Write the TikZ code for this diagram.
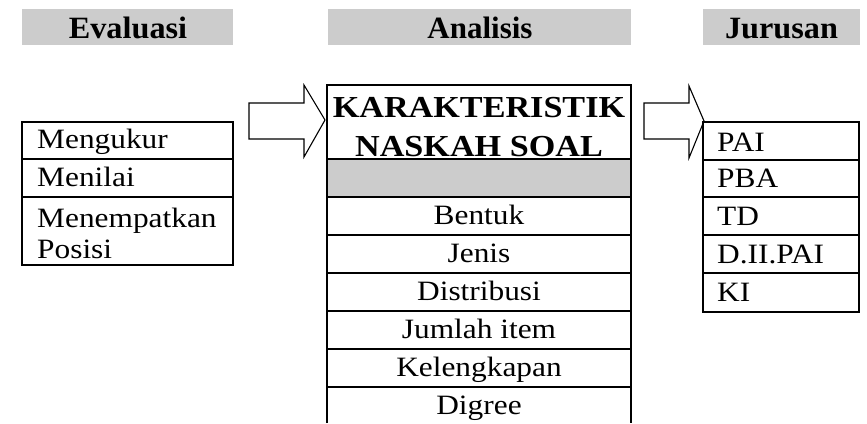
\documentclass[tikz,border=0pt]{standalone}
\usepackage{fontspec}
\usepackage{graphicx}
\setmainfont{Liberation Serif}
\newcommand{\wide}[1]{\scalebox{1.12}[1]{#1}}
\newcommand{\hwide}[1]{\scalebox{1.04}[1]{#1}}
\begin{document}
\begin{tikzpicture}[x=1pt,y=-1pt,
  line/.style={line width=1.1pt,black},
  hdr/.style={fill=black!20,draw=none},
  hdrtxt/.style={anchor=base,inner sep=0pt,font=\fontsize{31}{37}\selectfont\bfseries},
  ltxt/.style={anchor=base west,inner sep=0pt,font=\fontsize{28}{34}\selectfont},
  ctxt/.style={anchor=base,inner sep=0pt,font=\fontsize{28}{34}\selectfont},
  ttxt/.style={anchor=base,inner sep=0pt,font=\fontsize{30.5}{37}\selectfont\bfseries},
  blockarrow/.style={line width=1.1pt,black,line join=miter}]
\useasboundingbox (0,0) rectangle (867,423);
\clip (0,0) rectangle (867,423);
% headers
\fill[hdr] (22,9) rectangle (233,45);
\fill[hdr] (328,9) rectangle (631,45);
\fill[hdr] (703,9) rectangle (860,45);
\node[hdrtxt] (hEval) at (128,38) {\hwide{Evaluasi}};
\node[hdrtxt] (hAnal) at (480,38) {Analisis};
\node[hdrtxt] (hJur) at (781.5,38) {\hwide{Jurusan}};
% left table
\draw[line] (22,122) rectangle (233,265);
\draw[line] (22,159) -- (233,159);
\draw[line] (22,197) -- (233,197);
\node[ltxt] (l1) at (37,148) {\wide{Mengukur}};
\node[ltxt] (l2) at (37,186) {\wide{Menilai}};
\node[ltxt] (l3) at (37,227) {\wide{Menempatkan}};
\node[ltxt] (l4) at (37,258) {\wide{Posisi}};
% center table
\fill[black!20] (327,159) rectangle (631,197);
\draw[line] (327,423) -- (327,85) -- (631,85) -- (631,423);
\foreach \yy in {159,197,235,273,311,349,387}
  \draw[line] (327,\yy) -- (631,\yy);
\node[ttxt] (t1) at (479,117) {\wide{KARAKTERISTIK}};
\node[ttxt] (t2) at (479,156) {\wide{NASKAH SOAL}};
\node[ctxt] (c1) at (479,224) {\wide{Bentuk}};
\node[ctxt] (c2) at (479,262) {\wide{Jenis}};
\node[ctxt] (c3) at (479,300) {\wide{Distribusi}};
\node[ctxt] (c4) at (479,338) {\wide{Jumlah item}};
\node[ctxt] (c5) at (479,376) {\wide{Kelengkapan}};
\node[ctxt] (c6) at (479,414) {\wide{Digree}};
% right table
\draw[line] (703,122) rectangle (859,312);
\foreach \yy in {160,197,235,273}
  \draw[line] (703,\yy) -- (859,\yy);
\node[ltxt] (r1) at (717,151) {\wide{PAI}};
\node[ltxt] (r2) at (717,187) {\wide{PBA}};
\node[ltxt] (r3) at (717,225) {\wide{TD}};
\node[ltxt] (r4) at (717,263) {\wide{D.II.PAI}};
\node[ltxt] (r5) at (717,301) {\wide{KI}};
% block arrows
\draw[blockarrow] (249,103) -- (304,103) -- (304,85) -- (325,120) -- (304,157) -- (304,139) -- (249,139) -- cycle;
\draw[blockarrow] (644,103) -- (689,103) -- (689,86) -- (704,121) -- (689,158) -- (689,139) -- (644,139) -- cycle;
\end{tikzpicture}
\end{document}
